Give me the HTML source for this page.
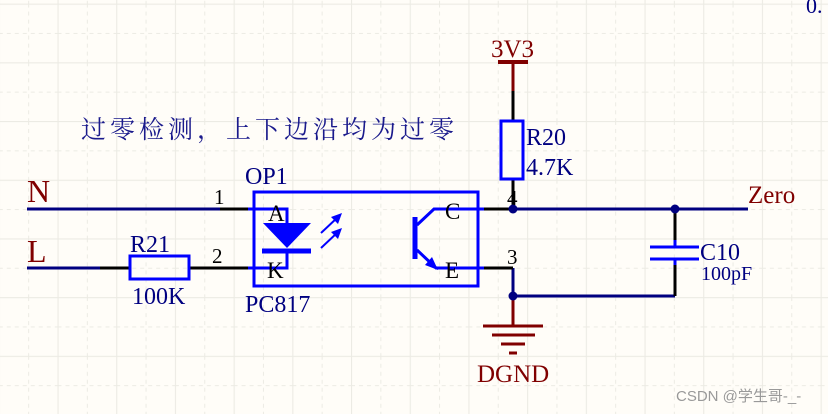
<!DOCTYPE html>
<html><head><meta charset="utf-8"><style>
html,body{margin:0;padding:0;background:#fffdf8;}
svg{display:block;}
.s{font-family:"Liberation Serif",serif;}
</style></head><body>
<svg width="828" height="414" viewBox="0 0 828 414" xmlns="http://www.w3.org/2000/svg">
<defs>
<pattern id="g" x="-1.2" y="3.6" width="58.7" height="58.7" patternUnits="userSpaceOnUse">
<line x1="0.5" y1="0" x2="0.5" y2="58.7" stroke="#ecebe4" stroke-width="1.2"/>
<line x1="0" y1="0.5" x2="58.7" y2="0.5" stroke="#ecebe4" stroke-width="1.2"/>
<line x1="29.85" y1="0" x2="29.85" y2="58.7" stroke="#ecebe4" stroke-width="1" stroke-dasharray="4,4"/>
<line x1="0" y1="29.85" x2="58.7" y2="29.85" stroke="#ecebe4" stroke-width="1" stroke-dasharray="4,4"/>
</pattern>
</defs>
<rect width="828" height="414" fill="#fffdf8"/>
<rect width="828" height="414" fill="url(#g)"/>

<g stroke="#000080" stroke-width="3" fill="none">
<line x1="27" y1="209" x2="220" y2="209"/>
<line x1="27" y1="268" x2="100" y2="268"/>
<line x1="513" y1="209" x2="748" y2="209"/>
<polyline points="513,268 513,296 675,296"/>
</g>
<g stroke="#000" stroke-width="3" fill="none">
<line x1="220" y1="209" x2="250" y2="209"/>
<line x1="100" y1="268" x2="130" y2="268"/>
<line x1="189" y1="268" x2="250" y2="268"/>
<line x1="482" y1="209" x2="513" y2="209"/>
<line x1="482" y1="268" x2="513" y2="268"/>
<line x1="513" y1="91" x2="513" y2="121"/>
<line x1="513" y1="179" x2="513" y2="209"/>
<line x1="675" y1="209" x2="675" y2="240"/>
<line x1="675" y1="265" x2="675" y2="296"/>
</g>
<g stroke="#800000" stroke-width="3" fill="none">
<line x1="498" y1="62" x2="528" y2="62" stroke-width="4"/>
<line x1="513" y1="62" x2="513" y2="91"/>
<line x1="513" y1="296" x2="513" y2="326"/>
<line x1="483" y1="326" x2="543" y2="326"/>
<line x1="492" y1="335" x2="535" y2="335"/>
<line x1="501" y1="344" x2="525" y2="344"/>
<line x1="509" y1="353" x2="517" y2="353"/>
</g>
<g fill="#000080">
<circle cx="513" cy="209" r="4.5"/><circle cx="675" cy="209" r="4.5"/><circle cx="513" cy="296" r="4.5"/>
</g>
<g stroke="#0000ff" stroke-width="3" fill="none">
<rect x="501" y="121" width="22" height="58"/>
<rect x="130" y="256" width="59" height="23"/>
<rect x="254" y="192" width="224" height="94"/>
<polyline points="248,209 287,209 287,224"/>
<polyline points="248,268 287,268 287,251"/>
<line x1="262" y1="251" x2="311" y2="251" stroke-width="5"/>
<line x1="321" y1="233" x2="338" y2="217" stroke-width="2"/>
<line x1="321" y1="248" x2="338" y2="232" stroke-width="2"/>
<line x1="415" y1="217" x2="415" y2="259" stroke-width="5"/>
<polyline points="417,225 434,209 484,209"/>
<polyline points="417,250 436,268 484,268"/>
<line x1="650" y1="247" x2="699" y2="247"/>
<line x1="650" y1="259" x2="699" y2="259"/>
<line x1="675" y1="240" x2="675" y2="247"/>
<line x1="675" y1="259" x2="675" y2="265"/>
</g>
<g fill="#0000ff">
<polygon points="263,223 311,223 287,248"/>
<polygon points="342,213 331,217 338,224"/>
<polygon points="342,228 331,232 338,239"/>
<polygon points="438,270 425,265 432,257"/>
</g>

<g class="s" fill="#800000">
<text x="27" y="202" font-size="32">N</text>
<text x="27" y="262" font-size="32">L</text>
<text x="748" y="203" font-size="25">Zero</text>
<text x="491" y="57" font-size="25">3V3</text>
<text x="477" y="382" font-size="25">DGND</text>
</g>
<g class="s" fill="#000080">
<text x="526" y="145" font-size="24">R20</text>
<text x="526" y="175" font-size="24">4.7K</text>
<text x="130" y="252" font-size="24">R21</text>
<text x="132" y="304" font-size="24">100K</text>
<text x="245" y="184" font-size="24">OP1</text>
<text x="245" y="312" font-size="24">PC817</text>
<text x="700" y="260" font-size="24">C10</text>
<text x="701" y="280" font-size="20">100pF</text>
<text x="806" y="13" font-size="22">0.</text>
</g>
<g class="s" fill="#000">
<text x="214" y="204" font-size="21">1</text>
<text x="212" y="263" font-size="21">2</text>
<text x="507" y="205" font-size="21">4</text>
<text x="507" y="264" font-size="21">3</text>
<text x="268" y="221" font-size="23">A</text>
<text x="267" y="278" font-size="23">K</text>
<text x="445" y="219" font-size="23">C</text>
<text x="445" y="278" font-size="23">E</text>
</g>
<text x="81" y="138" font-size="25" letter-spacing="4" fill="#1a1a8c" font-family="'Liberation Serif','Noto Serif CJK SC',serif">过零检测，上下边沿均为过零</text>
<text x="676" y="401" font-size="15" fill="#999" font-family="'Liberation Sans','Noto Sans CJK SC',sans-serif">CSDN @学生哥-_-</text>
</svg>
</body></html>
